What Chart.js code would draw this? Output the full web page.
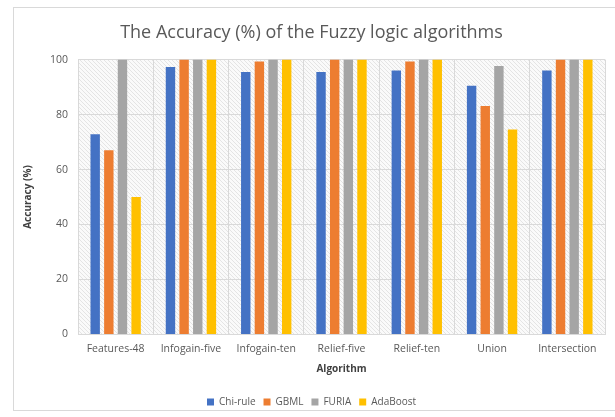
<!DOCTYPE html>
<html>
<head>
<meta charset="utf-8">
<script src="https://cdn.jsdelivr.net/npm/chart.js@4"></script>
<style>
html,body{margin:0;padding:0;background:#fff;}
#wrap{position:absolute;left:0;top:0;width:615px;height:417px;}
#frame{position:absolute;left:13px;top:7px;width:620px;height:404px;border:1px solid #d9d9d9;box-sizing:border-box;}
canvas{position:absolute;left:0;top:0;}
</style>
</head>
<body>
<div id="wrap">
<div id="frame"></div>
<canvas id="c" width="615" height="417"></canvas>
</div>
<script>
const categories = ["Features-48","Infogain-five","Infogain-ten","Relief-five","Relief-ten","Union","Intersection"];
const chiRule  = [72.8, 97.3, 95.5, 95.5, 96.0, 90.5, 96.0];
const gbml     = [67.0, 100, 99.3, 100, 99.3, 83.1, 100];
const furia    = [100, 100, 100, 100, 100, 97.7, 100];
const adaBoost = [50.0, 100, 100, 100, 100, 74.6, 100];
const yTicks = [0,20,40,60,80,100];

function hatch(){
  const p=document.createElement('canvas'); p.width=4; p.height=4;
  const g=p.getContext('2d');
  g.fillStyle='#fafafa'; g.fillRect(0,0,4,4);
  g.strokeStyle='#e4e4e4'; g.lineWidth=1;
  g.beginPath(); g.moveTo(0,0); g.lineTo(4,4); g.stroke();
  g.beginPath(); g.moveTo(-4,0); g.lineTo(0,4); g.stroke();
  g.beginPath(); g.moveTo(4,0); g.lineTo(8,4); g.stroke();
  return document.getElementById('c').getContext('2d').createPattern(p,'repeat');
}
const bgPlugin={id:'bg',beforeDraw(chart){
  const {ctx,chartArea:a}=chart;
  ctx.save(); ctx.fillStyle=hatch(); ctx.fillRect(a.left,a.top,a.right-a.left,a.bottom-a.top); ctx.restore();
}};

const font="'Open Sans', 'Liberation Sans', sans-serif";
new Chart(document.getElementById('c'),{
  type:'bar',
  data:{labels:categories,datasets:[
    {label:'Chi-rule',data:chiRule,backgroundColor:'#4472C4'},
    {label:'GBML',data:gbml,backgroundColor:'#ED7D31'},
    {label:'FURIA',data:furia,backgroundColor:'#A5A5A5'},
    {label:'AdaBoost',data:adaBoost,backgroundColor:'#FFC000'}
  ]},
  options:{
    responsive:false,animation:false,
    categoryPercentage:0.725,barPercentage:0.69,
    layout:{padding:{left:18,right:10,top:6,bottom:0}},
    plugins:{
      title:{display:true,text:'The Accuracy (%) of the Fuzzy logic algorithms',color:'#595959',font:{family:font,size:18,weight:'normal'},padding:{top:16,bottom:16}},
      legend:{position:'bottom',labels:{boxWidth:7,boxHeight:7,color:'#595959',font:{family:font,size:10},padding:8}},
      tooltip:{enabled:false}
    },
    scales:{
      x:{grid:{color:'#d9d9d9',offset:true,drawTicks:false},border:{color:'#d9d9d9'},
         ticks:{color:'#595959',font:{family:font,size:10.5},padding:8,maxRotation:0,autoSkip:false},
         title:{display:true,text:'Algorithm',color:'#404040',font:{family:font,size:10,weight:'bold'},padding:{top:0,bottom:14}}},
      y:{min:0,max:100,afterBuildTicks(ax){ax.ticks=yTicks.map(v=>({value:v}));},
         grid:{color:'#d9d9d9',drawTicks:false},border:{display:false},
         ticks:{color:'#595959',font:{family:font,size:10.5},padding:10},
         title:{display:true,text:'Accuracy (%)',color:'#404040',font:{family:font,size:10,weight:'bold'},padding:{bottom:6}}}
    }
  },
  plugins:[bgPlugin]
});
</script>
</body>
</html>
